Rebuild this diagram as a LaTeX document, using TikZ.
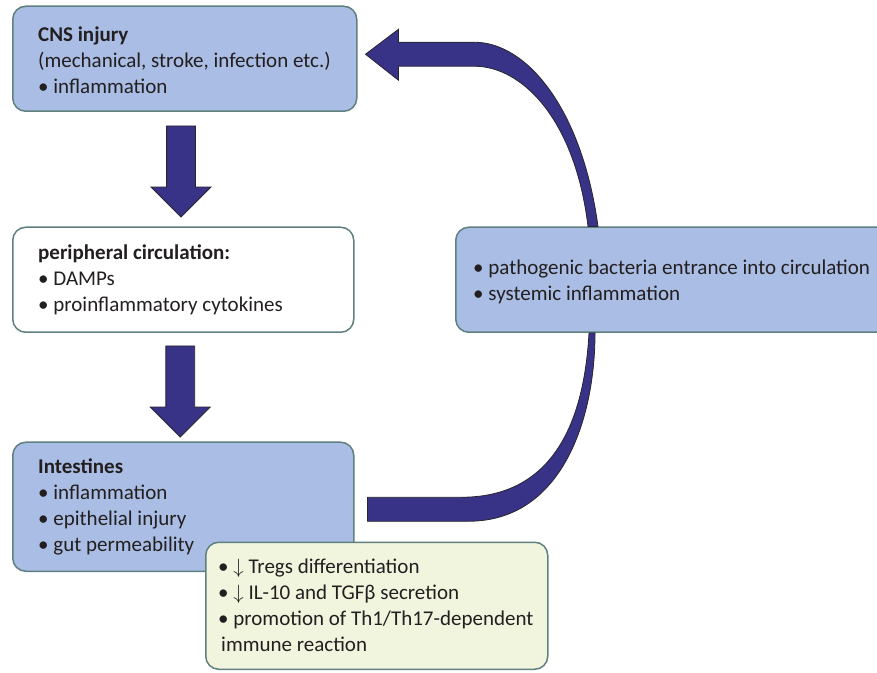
\documentclass[tikz,border=0pt]{standalone}
\usepackage{fontspec}
\setmainfont{Carlito}
\usetikzlibrary{calc,shapes.arrows}
\definecolor{boxblue}{RGB}{170,189,228}
\definecolor{boxedge}{RGB}{96,128,128}
\definecolor{boxyellow}{RGB}{241,245,222}
\definecolor{arrowfill}{RGB}{57,51,135}
\definecolor{arrowedge}{RGB}{40,38,45}
\definecolor{txtcol}{RGB}{35,31,32}
\begin{document}
\begin{tikzpicture}[x=1pt, y=1pt,
            box/.style = {draw=boxedge, line width=1.5pt, rounded corners=13pt, anchor=south west, inner sep=0pt},
            bluebox/.style = {box, fill=boxblue},
            whitebox/.style = {box, fill=white},
            yellowbox/.style = {box, fill=boxyellow},
            txt/.style = {anchor=west, align=left, inner sep=0pt, text=txtcol, font=\fontsize{21}{26}\selectfont},
            downarr/.style = {single arrow, draw=arrowedge, fill=arrowfill, line width=0.8pt, rotate=-90,
                              minimum height=91pt, text height=28pt, text depth=0pt, inner sep=0pt,
                              single arrow head extend=15.5pt, single arrow head indent=0pt},
            bigarrow/.style = {draw=arrowedge, fill=arrowfill, line width=0.8pt},
        ]
        \useasboundingbox (0,0) rectangle (877,672);

        % boxes
        \node (cns) [bluebox, minimum width=344pt, minimum height=105pt] at (12,560){};
        \node (periph) [whitebox, minimum width=341pt, minimum height=105pt] at (12,339){};
        \node (gut) [bluebox, minimum width=341pt, minimum height=129pt] at (12,100){};
        \node (sys) [bluebox, minimum width=450pt, minimum height=105pt] at (455,339){};
        \node (treg) [yellowbox, minimum width=342pt, minimum height=127pt] at (205,2){};

        % texts
        \node (cnstxt) [txt] at ([xshift=26pt,yshift=-1pt]cns.west){\textbf{CNS injury}\\(mechanical, stroke, infection etc.)\\• inflammation};
        \node (periphtxt) [txt] at ([xshift=26pt]periph.west){\textbf{peripheral circulation:}\\• DAMPs\\• proinflammatory cytokines};
        \node (guttxt) [txt] at ([xshift=26pt]gut.west){\textbf{Intestines}\\• inflammation\\• epithelial injury\\• gut permeability};
        \node (systxt) [txt] at ([xshift=18pt,yshift=-2pt]sys.west){• pathogenic bacteria entrance into circulation\\• systemic inflammation};
        \node (tregtxt) [txt] at ([xshift=13pt]treg.west){• $\downarrow$ Tregs differentiation\\• $\downarrow$ IL-10 and TGFβ secretion\\• promotion of Th1/Th17-dependent\\\kern3pt immune reaction};

        % straight block arrows
        \node (down1) [downarr] at ($(cns.south)!.5!(periph.north)+(-3,5)$){};
        \node (down2) [downarr] at ($(periph.south)!.5!(gut.north)+(-3,3)$){};

        % curved arrows
        \coordinate (gutout) at ([xshift=13pt,yshift=-2.5pt]gut.east);
        \coordinate (sysin) at ([xshift=137pt]sys.south west);
        \coordinate (sysout) at ([xshift=138pt]sys.north west);
        \coordinate (cnsin) at ([xshift=8pt,yshift=4.5pt]cns.east);

        \path[bigarrow] ([yshift=12pt]gutout) -- ([yshift=-12pt]gutout) -- ++(101,0)
            .. controls +(93,0) and +(0,-87) .. ([xshift=3pt]sysin)
            -- ([xshift=-3pt]sysin)
            .. controls +(-6,-107) and +(80,0) .. ([xshift=94pt,yshift=12pt]gutout) -- cycle;
        \path[bigarrow] ([xshift=5pt]sysout)
            .. controls +(-16,118) and +(52,0) .. ([xshift=109pt,yshift=12pt]cnsin)
            -- ++(-76,0) -- ++(0,13) -- (cnsin) -- ([xshift=33pt,yshift=-26pt]cnsin)
            -- ++(0,14) -- ++(76,0)
            .. controls +(47,0) and +(-13,108) .. ([xshift=-5pt]sysout) -- cycle;
    \end{tikzpicture}
\end{document}
